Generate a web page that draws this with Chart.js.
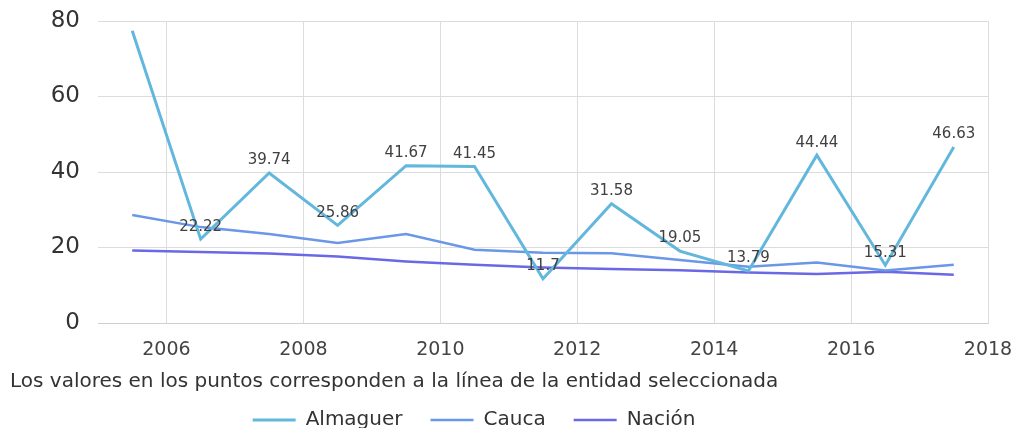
<!DOCTYPE html>
<html>
<head>
<meta charset="utf-8">
<script src="https://cdn.jsdelivr.net/npm/chart.js@4.4.1/dist/chart.umd.min.js"></script>
<style>
    html, body { margin: 0; padding: 0; background: #fff; overflow: hidden; }
    #wrap { width: 1016px; height: 440px; }
</style>
</head>
<body>
<div id="wrap"><canvas id="chart"></canvas></div>
<script>
// Data (points sit at mid-year)
const years = [2005.5, 2006.5, 2007.5, 2008.5, 2009.5, 2010.5, 2011.5, 2012.5, 2013.5, 2014.5, 2015.5, 2016.5, 2017.5];
const almaguer = [77.4, 22.22, 39.74, 25.86, 41.67, 41.45, 11.7, 31.58, 19.05, 13.79, 44.44, 15.31, 46.63];
const cauca = [28.6, 25.4, 23.6, 21.2, 23.6, 19.4, 18.6, 18.5, 16.7, 14.9, 16.0, 13.9, 15.4];
const nacion = [19.2, 18.8, 18.4, 17.6, 16.3, 15.4, 14.7, 14.3, 14.0, 13.4, 13.0, 13.6, 12.8];
const xTicks = [2006, 2008, 2010, 2012, 2014, 2016, 2018];
const yTicks = [0, 20, 40, 60, 80];
const caption = 'Los valores en los puntos corresponden a la línea de la entidad seleccionada';

const toPoints = vals => vals.map((v, i) => ({ x: years[i], y: v }));

// value labels above the Almaguer points (first one is not shown in the original)
const pointLabels = {
    id: 'pointLabels',
    afterDatasetsDraw(chart) {
        const ctx = chart.ctx;
        const meta = chart.getDatasetMeta(0);
        ctx.save();
        ctx.font = '15px "DejaVu Sans"';
        ctx.fillStyle = '#404040';
        ctx.textAlign = 'center';
        ctx.textBaseline = 'bottom';
        meta.data.forEach((pt, i) => {
            if (i === 0) return;
            ctx.fillText(String(almaguer[i]), pt.x, pt.y - 5);
        });
        ctx.restore();
    }
};

// the legend in the original sits a bit left of the centre
const legendShift = {
    id: 'legendShift',
    afterLayout(chart) {
        chart.legend.right -= 50;
    }
};

const ctx = document.getElementById('chart').getContext('2d');
new Chart(ctx, {
    type: 'line',
    data: {
        datasets: [
            { label: 'Almaguer', data: toPoints(almaguer), borderColor: '#62b7dd', backgroundColor: '#62b7dd', borderWidth: 3 },
            { label: 'Cauca', data: toPoints(cauca), borderColor: '#6a97e6', backgroundColor: '#6a97e6', borderWidth: 2.5 },
            { label: 'Nación', data: toPoints(nacion), borderColor: '#6a68e4', backgroundColor: '#6a68e4', borderWidth: 2.5 }
        ]
    },
    options: {
        responsive: true,
        maintainAspectRatio: false,
        animation: false,
        elements: { point: { radius: 0 }, line: { tension: 0 } },
        layout: { padding: { left: 10, right: 28, top: 21, bottom: 0 } },
        scales: {
            x: {
                type: 'linear',
                min: 2005,
                max: 2018,
                afterBuildTicks: scale => { scale.ticks = xTicks.map(v => ({ value: v })); },
                afterFit: scale => {
                    scale.height = 40;
                    scale.paddingLeft = 0;
                    scale.paddingRight = 0;
                },
                grid: { color: '#dcdcdc', drawTicks: false },
                border: { display: true, color: '#cfcfcf' },
                ticks: {
                    padding: 16,
                    color: '#444',
                    font: { family: '"DejaVu Sans"', size: 19 },
                    callback: v => String(v)
                }
            },
            y: {
                min: 0,
                max: 80,
                afterBuildTicks: scale => { scale.ticks = yTicks.map(v => ({ value: v })); },
                afterFit: scale => {
                    scale.width = 88;
                    scale.paddingTop = 0;
                    scale.paddingBottom = 0;
                },
                grid: { color: '#dcdcdc', drawTicks: false },
                border: { display: false },
                ticks: {
                    padding: 18,
                    color: '#333',
                    font: { family: '"DejaVu Sans"', size: 23 }
                }
            }
        },
        plugins: {
            tooltip: { enabled: false },
            title: {
                display: true,
                text: caption,
                position: 'bottom',
                align: 'start',
                weight: 500,
                color: '#333',
                font: { family: '"DejaVu Sans"', size: 20, weight: 'normal' },
                padding: { top: 7, bottom: -12 }
            },
            legend: {
                position: 'bottom',
                labels: {
                    usePointStyle: true,
                    pointStyle: 'line',
                    pointStyleWidth: 43,
                    padding: 28,
                    color: '#333',
                    font: { family: '"DejaVu Sans"', size: 20 }
                }
            }
        }
    },
    plugins: [pointLabels, legendShift]
});
</script>
</body>
</html>
